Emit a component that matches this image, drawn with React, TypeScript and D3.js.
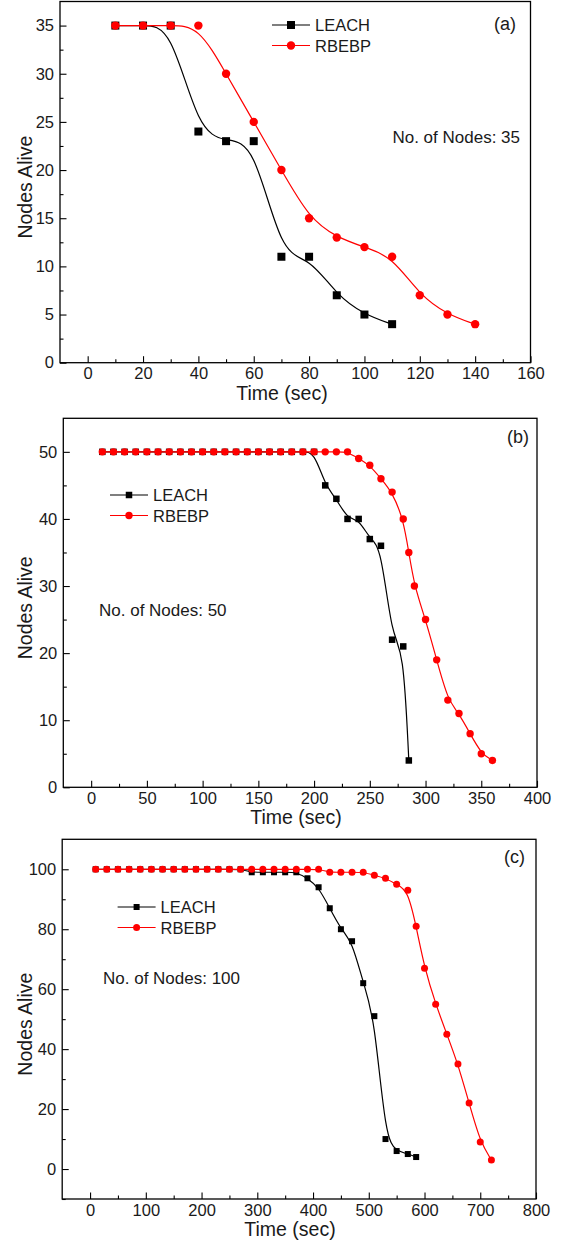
import React, { useEffect, useRef } from 'react';
import * as d3 from 'd3';

// ---- panel (a): 35 nodes ----
const leachTimeA = [10, 20, 30, 40, 50, 60, 70, 80, 90, 100, 110];
const leachAliveA = [35, 35, 35, 24, 23, 23, 11, 11, 7, 5, 4];
const rbebpTimeA = [10, 20, 30, 40, 50, 60, 70, 80, 90, 100, 110, 120, 130, 140];
const rbebpAliveA = [35, 35, 35, 35, 30, 25, 20, 15, 13, 12, 11, 7, 5, 4];
const xTicksA = [0, 20, 40, 60, 80, 100, 120, 140, 160];
const xMinorA = [10, 30, 50, 70, 90, 110, 130, 150];
const yTicksA = [0, 5, 10, 15, 20, 25, 30, 35];
const yMinorA = [2.5, 7.5, 12.5, 17.5, 22.5, 27.5, 32.5];

// ---- panel (b): 50 nodes ----
const leachTimeB = [10, 20, 30, 40, 50, 60, 70, 80, 90, 100, 110, 120, 130, 140, 150, 160, 170, 180, 190, 200,
  210, 220, 230, 240, 250, 260, 270, 280, 285];
const leachAliveB = [50, 50, 50, 50, 50, 50, 50, 50, 50, 50, 50, 50, 50, 50, 50, 50, 50, 50, 50, 50,
  45, 43, 40, 40, 37, 36, 22, 21, 4];
const rbebpTimeB = [10, 20, 30, 40, 50, 60, 70, 80, 90, 100, 110, 120, 130, 140, 150, 160, 170, 180, 190, 200,
  210, 220, 230, 240, 250, 260, 270, 280, 285, 290, 300, 310, 320, 330, 340, 350, 360];
const rbebpAliveB = [50, 50, 50, 50, 50, 50, 50, 50, 50, 50, 50, 50, 50, 50, 50, 50, 50, 50, 50, 50,
  50, 50, 50, 49, 48, 46, 44, 40, 35, 30, 25, 19, 13, 11, 8, 5, 4];
const xTicksB = [0, 50, 100, 150, 200, 250, 300, 350, 400];
const xMinorB = [25, 75, 125, 175, 225, 275, 325, 375];
const yTicksB = [0, 10, 20, 30, 40, 50];
const yMinorB = [5, 15, 25, 35, 45];

// ---- panel (c): 100 nodes ----
const leachTimeC = [10, 30, 50, 70, 90, 110, 130, 150, 170, 190, 210, 230, 250, 270,
  290, 310, 330, 350, 370, 390, 410, 430, 450, 470, 490, 510, 530, 550, 570, 585];
const leachAliveC = [100, 100, 100, 100, 100, 100, 100, 100, 100, 100, 100, 100, 100, 100,
  99, 99, 99, 99, 99, 97, 94, 87, 80, 76, 62, 51, 10, 6, 5, 4];
const rbebpTimeC = [10, 30, 50, 70, 90, 110, 130, 150, 170, 190, 210, 230, 250, 270, 290, 310, 330, 350, 370, 390, 410,
  430, 450, 470, 490, 510, 530, 550, 570, 585, 600, 620, 640, 660, 680, 700, 720];
const rbebpAliveC = [100, 100, 100, 100, 100, 100, 100, 100, 100, 100, 100, 100, 100, 100, 100, 100, 100, 100, 100, 100, 100,
  99, 99, 99, 99, 98, 97, 95, 93, 81, 67, 55, 45, 35, 22, 9, 3];
const xTicksC = [0, 100, 200, 300, 400, 500, 600, 700, 800];
const xMinorC = [50, 150, 250, 350, 450, 550, 650, 750];
const yTicksC = [0, 20, 40, 60, 80, 100];
const yMinorC = [-10, 10, 30, 50, 70, 90];

const FONT = "'Liberation Sans', Arial, sans-serif";
const TEXT = '#1a1a1a';

interface PanelCfg {
  left: number; right: number; top: number; bottom: number;
  xDomain: [number, number]; yDomain: [number, number];
  xTicks: number[]; xMinor: number[]; yTicks: number[]; yMinor: number[];
  leachT: number[]; leachN: number[]; rbebpT: number[]; rbebpN: number[];
  tag: string; tagX: number; tagY: number;
  note: string; noteX: number; noteY: number; noteAnchor: string;
  legX: number; legY: number;
  titleX: number;
  sq: number; r: number;
}

const panels: PanelCfg[] = [
  {
    left: 60, right: 530.5, top: 1.5, bottom: 362.7,
    xDomain: [-10, 160], yDomain: [0, 37.5],
    xTicks: xTicksA, xMinor: xMinorA, yTicks: yTicksA, yMinor: yMinorA,
    leachT: leachTimeA, leachN: leachAliveA, rbebpT: rbebpTimeA, rbebpN: rbebpAliveA,
    tag: '(a)', tagX: 516, tagY: 24, note: 'No. of Nodes: 35', noteX: 520, noteY: 137, noteAnchor: 'end',
    legX: 272, legY: 25, titleX: 282, sq: 8, r: 4.2,
  },
  {
    left: 63.3, right: 537, top: 418.3, bottom: 787.3,
    xDomain: [-25, 400], yDomain: [0, 55],
    xTicks: xTicksB, xMinor: xMinorB, yTicks: yTicksB, yMinor: yMinorB,
    leachT: leachTimeB, leachN: leachAliveB, rbebpT: rbebpTimeB, rbebpN: rbebpAliveB,
    tag: '(b)', tagX: 529, tagY: 437, note: 'No. of Nodes: 50', noteX: 99, noteY: 610, noteAnchor: 'start',
    legX: 110, legY: 495, titleX: 296, sq: 6.5, r: 3.7,
  },
  {
    left: 62.2, right: 536, top: 839.3, bottom: 1199,
    xDomain: [-50, 800], yDomain: [-10, 110],
    xTicks: xTicksC, xMinor: xMinorC, yTicks: yTicksC, yMinor: yMinorC,
    leachT: leachTimeC, leachN: leachAliveC, rbebpT: rbebpTimeC, rbebpN: rbebpAliveC,
    tag: '(c)', tagX: 525, tagY: 857, note: 'No. of Nodes: 100', noteX: 103, noteY: 978, noteAnchor: 'start',
    legX: 117.6, legY: 907, titleX: 290, sq: 6, r: 3.5,
  },
];

function drawPanel(svg: d3.Selection<SVGSVGElement, unknown, null, undefined>, p: PanelCfg) {
  const g = svg.append('g');
  const x = d3.scaleLinear().domain(p.xDomain).range([p.left, p.right]);
  const y = d3.scaleLinear().domain(p.yDomain).range([p.bottom, p.top]);

  // major + minor ticks, pointing inward
  const xAxis = g.append('g')
    .attr('transform', `translate(0,${p.bottom})`)
    .call(d3.axisBottom(x).tickValues(p.xTicks).tickSizeInner(-6.5).tickSizeOuter(0).tickPadding(5));
  g.append('g')
    .attr('transform', `translate(0,${p.bottom})`)
    .call(d3.axisBottom(x).tickValues(p.xMinor).tickSizeInner(-3.5).tickSizeOuter(0).tickFormat(() => ''));
  const yAxis = g.append('g')
    .attr('transform', `translate(${p.left},0)`)
    .call(d3.axisLeft(y).tickValues(p.yTicks).tickSizeInner(-6.5).tickSizeOuter(0).tickPadding(6));
  g.append('g')
    .attr('transform', `translate(${p.left},0)`)
    .call(d3.axisLeft(y).tickValues(p.yMinor).tickSizeInner(-3.5).tickSizeOuter(0).tickFormat(() => ''));

  g.selectAll('.domain').remove();
  g.selectAll('.tick line').attr('stroke', '#000').attr('stroke-width', 1.1);
  [xAxis, yAxis].forEach(a => a.selectAll('text')
    .attr('font-family', FONT).attr('font-size', 16.5).attr('fill', TEXT));

  // frame
  g.append('rect')
    .attr('x', p.left).attr('y', p.top)
    .attr('width', p.right - p.left).attr('height', p.bottom - p.top)
    .attr('fill', 'none').attr('stroke', '#000').attr('stroke-width', 1.3);

  // B-spline curves + markers, RBEBP drawn on top
  const line = d3.line<[number, number]>()
    .x(d => x(d[0]))
    .y(d => y(d[1]))
    .curve(d3.curveBasis);

  const series = [
    { t: p.leachT, n: p.leachN, color: '#000', shape: 'square' },
    { t: p.rbebpT, n: p.rbebpN, color: '#ff0000', shape: 'circle' },
  ];

  series.forEach(s => {
    const pts = s.t.map((t, i) => [t, s.n[i]] as [number, number]);
    g.append('path')
      .attr('d', line(pts))
      .attr('fill', 'none').attr('stroke', s.color).attr('stroke-width', 1.2);
    if (s.shape === 'square') {
      g.selectAll(null).data(pts).enter().append('rect')
        .attr('x', d => x(d[0]) - p.sq / 2).attr('y', d => y(d[1]) - p.sq / 2)
        .attr('width', p.sq).attr('height', p.sq).attr('fill', '#000');
    } else {
      g.selectAll(null).data(pts).enter().append('circle')
        .attr('cx', d => x(d[0])).attr('cy', d => y(d[1])).attr('r', p.r).attr('fill', '#ff0000');
    }
  });

  // legend
  const legW = 38;
  [{ label: 'LEACH', color: '#000', shape: 'square' }, { label: 'RBEBP', color: '#ff0000', shape: 'circle' }]
    .forEach((l, i) => {
      const ly = p.legY + i * 20.5;
      g.append('line').attr('x1', p.legX).attr('x2', p.legX + legW).attr('y1', ly).attr('y2', ly)
        .attr('stroke', l.color).attr('stroke-width', 1.2);
      if (l.shape === 'square') {
        g.append('rect').attr('x', p.legX + legW / 2 - p.sq / 2).attr('y', ly - p.sq / 2)
          .attr('width', p.sq).attr('height', p.sq).attr('fill', '#000');
      } else {
        g.append('circle').attr('cx', p.legX + legW / 2).attr('cy', ly).attr('r', p.r).attr('fill', '#ff0000');
      }
      g.append('text').attr('x', p.legX + legW + 5).attr('y', ly).attr('dominant-baseline', 'central')
        .attr('font-family', FONT).attr('font-size', 16.5).attr('fill', TEXT).text(l.label);
    });

  // annotations
  g.append('text').attr('x', p.tagX).attr('y', p.tagY).attr('text-anchor', 'end')
    .attr('dominant-baseline', 'central').attr('font-family', FONT).attr('font-size', 18)
    .attr('fill', TEXT).text(p.tag);
  g.append('text').attr('x', p.noteX).attr('y', p.noteY).attr('text-anchor', p.noteAnchor)
    .attr('dominant-baseline', 'central').attr('font-family', FONT).attr('font-size', 17)
    .attr('fill', TEXT).text(p.note);

  // axis titles
  g.append('text').attr('x', p.titleX).attr('y', p.bottom + 37).attr('text-anchor', 'middle')
    .attr('font-family', FONT).attr('font-size', 19.5).attr('fill', TEXT).text('Time (sec)');
  const cy = (p.top + p.bottom) / 2 + 5;
  g.append('text').attr('transform', `translate(25,${cy}) rotate(-90)`)
    .attr('text-anchor', 'middle').attr('dominant-baseline', 'central')
    .attr('font-family', FONT).attr('font-size', 19.5).attr('fill', TEXT).text('Nodes Alive');
}

const App: React.FC = () => {
  const ref = useRef<SVGSVGElement | null>(null);

  useEffect(() => {
    if (!ref.current) return;
    const svg = d3.select(ref.current);
    svg.selectAll('*').remove();
    panels.forEach(p => drawPanel(svg, p));
  }, []);

  return (
    <svg
      ref={ref}
      width={563}
      height={1245}
      style={{ position: 'absolute', left: 0, top: 0, background: '#fff' }}
    />
  );
};

export default App;
